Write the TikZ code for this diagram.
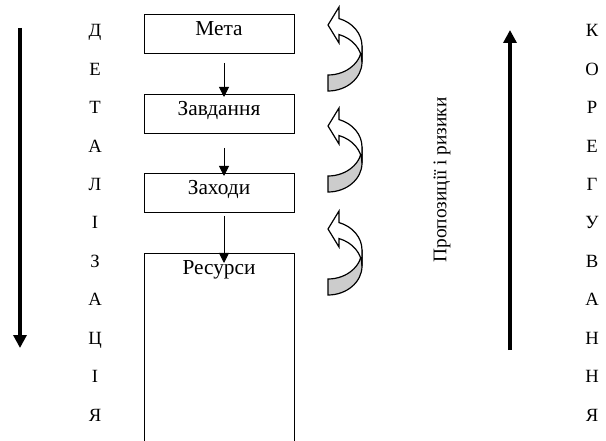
\documentclass[tikz,border=0pt]{standalone}
\usepackage{fontspec}
\setmainfont{Liberation Serif}
\usetikzlibrary{arrows.meta}

\begin{document}
\begin{tikzpicture}[x=0.75pt, y=-0.75pt, every node/.style={inner sep=0pt},
    box/.style={draw, line width=0.75pt, anchor=north, minimum width=112.5pt,
    minimum height=29.25pt, text height=15.75pt, text depth=13.5pt,
    font=\fontsize{16}{19}\selectfont},
    link/.style={line width=0.75pt, -{Triangle[length=7.5pt,width=7.5pt]}},
    bigarrow/.style={line width=3pt, -{Triangle[length=9.75pt,width=9.75pt]}},
    letter/.style={anchor=base, font=\fontsize{14}{17}\selectfont},
    turn/.style={draw, line width=0.9pt, line join=miter}]
        \useasboundingbox (0,0) rectangle (606,441);
        \clip (0,0) rectangle (606,441);
        % left column
        \coordinate (dtop) at (20,28);
        \coordinate (dbot) at (20,348);
        \draw[bigarrow] (dtop) -- (dbot);
        \foreach \ch [count=\i] in {Д,Е,Т,А,Л,І,З,А,Ц,І,Я}
        \node[letter] (d\i) at (95,{37+38.4*(\i-1)}) {\ch};
        % boxes
        \node[box] (meta) at (219,14) {Мета};
        \node[box] (zavd) at (219,94) {Завдання};
        \node[box] (zakh) at (219,173) {Заходи};
        \node[box, minimum height=150pt, text depth=134.25pt] (res) at (219,253) 
        {Ресурси};
        \draw[link] ([xshift=3.75pt,yshift=-6.75pt]meta.south) -- 
        ([xshift=3.75pt,yshift=-2.25pt]zavd.north);
        \draw[link] ([xshift=3.75pt,yshift=-10.5pt]zavd.south) -- 
        ([xshift=3.75pt,yshift=-2.25pt]zakh.north);
        \draw[link] ([xshift=3.75pt,yshift=-2.25pt]zakh.south) -- 
        ([xshift=3.75pt,yshift=-7.5pt]res.north);
        % curved arrows
        \foreach \dy in {0,101,204}
        {
        \begin{scope}[shift={(0,\dy)}]
        \filldraw[turn, fill=black!20] (328,75) arc[start angle=90, 
        end angle=0, x radius=34, y radius=29] -- (362,62) 
        arc[start angle=0, end angle=90, x radius=34, y radius=29] -- cycle;
        \filldraw[turn, fill=white] (339,18.56) arc[start angle=-71.1, 
        end angle=0, x radius=34, y radius=29] -- (362,62) 
        arc[start angle=0, end angle=-71.1, x radius=34, y radius=29] 
        -- (339,43) -- (328,25) -- (339,7) -- cycle;
        \end{scope}
        }
        \node[rotate=90, font=\fontsize{14.5}{17}\selectfont] (risk) at (442,180) 
        {Пропозиції і ризики};
        % right column
        \coordinate (ktail) at (510,350);
        \coordinate (khead) at (510,30);
        \draw[bigarrow] (ktail) -- (khead);
        \foreach \ch [count=\i] in {К,О,Р,Е,Г,У,В,А,Н,Н,Я}
        \node[letter] (k\i) at (592,{37+38.4*(\i-1)}) {\ch};
    \end{tikzpicture}
\end{document}
